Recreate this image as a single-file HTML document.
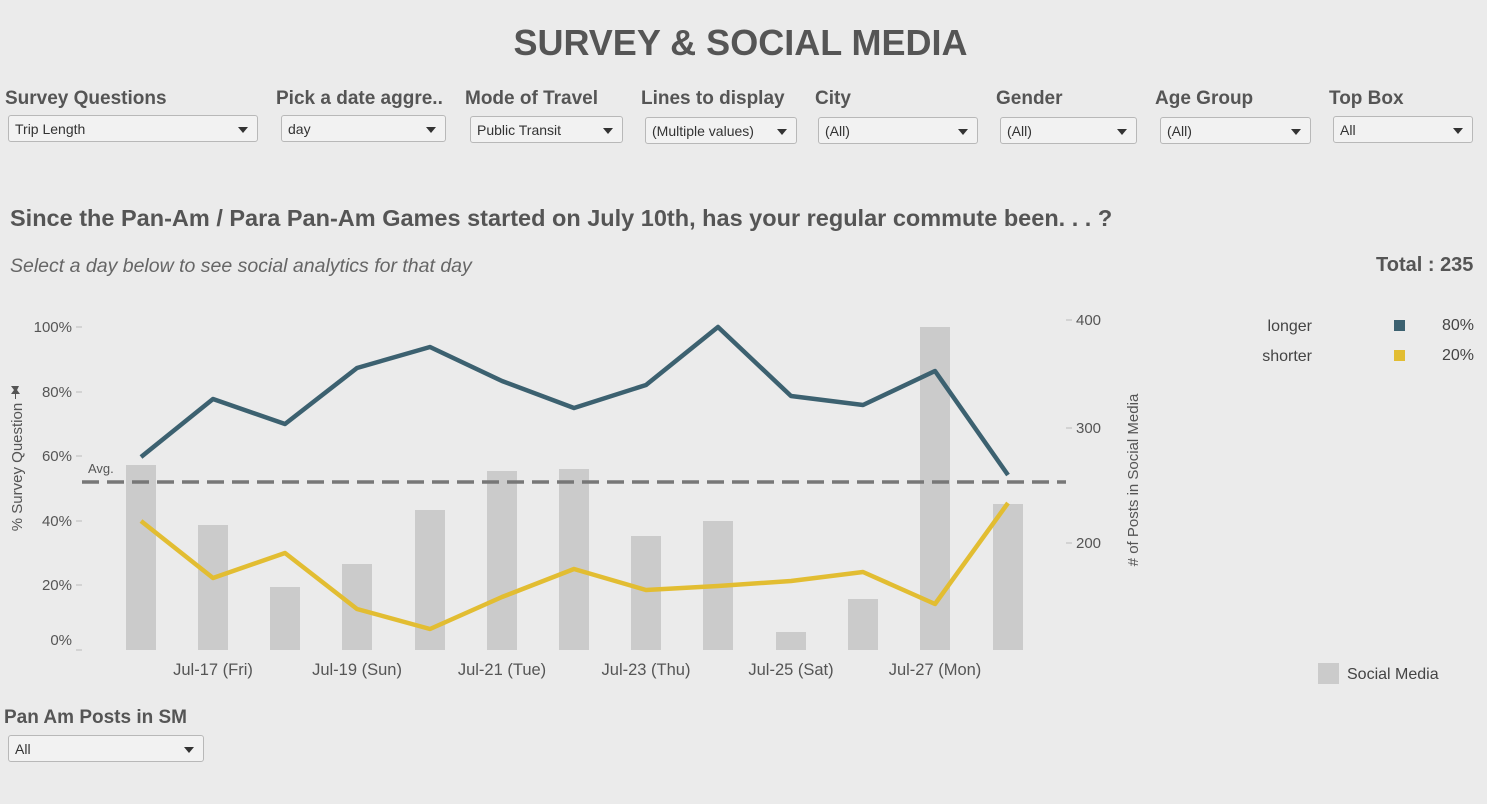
<!DOCTYPE html>
<html><head><meta charset="utf-8"><style>
body{margin:0;width:1487px;height:804px;background:#ebebeb;font-family:"Liberation Sans",Arial,sans-serif;position:relative;overflow:hidden;color:#444}
.a{position:absolute;white-space:nowrap}
.lbl{font-size:19px;font-weight:bold;color:#555}
.dd{position:absolute;height:27px;border:1px solid #b8b8b8;border-radius:3px;background:#f2f2f2;font-size:14px;color:#333;line-height:27px;padding-left:6px;box-sizing:border-box}
.dd:after{content:"";position:absolute;right:9px;top:11px;border-left:5px solid transparent;border-right:5px solid transparent;border-top:6px solid #333}
</style></head><body>
<div class="a" style="left:0;width:1481px;text-align:center;top:22px;font-size:36px;font-weight:bold;color:#555">SURVEY &amp; SOCIAL MEDIA</div>
<div class="a lbl" style="left:5px;top:88px">Survey Questions</div>
<div class="a lbl" style="left:276px;top:88px">Pick a date aggre..</div>
<div class="a lbl" style="left:465px;top:88px">Mode of Travel</div>
<div class="a lbl" style="left:641px;top:88px">Lines to display</div>
<div class="a lbl" style="left:815px;top:88px">City</div>
<div class="a lbl" style="left:996px;top:88px">Gender</div>
<div class="a lbl" style="left:1155px;top:88px">Age Group</div>
<div class="a lbl" style="left:1329px;top:88px">Top Box</div>
<div class="dd" style="left:8px;top:115px;width:250px">Trip Length</div>
<div class="dd" style="left:281px;top:115px;width:165px">day</div>
<div class="dd" style="left:470px;top:116px;width:153px">Public Transit</div>
<div class="dd" style="left:645px;top:117px;width:152px">(Multiple values)</div>
<div class="dd" style="left:818px;top:117px;width:160px">(All)</div>
<div class="dd" style="left:1000px;top:117px;width:137px">(All)</div>
<div class="dd" style="left:1160px;top:117px;width:151px">(All)</div>
<div class="dd" style="left:1333px;top:116px;width:140px">All</div>
<div class="a" style="left:10px;top:205px;font-size:23.5px;font-weight:bold;color:#555">Since the Pan-Am / Para Pan-Am Games started on July 10th, has your regular commute been. . . ?</div>
<div class="a" style="left:10px;top:255px;font-size:19.5px;font-style:italic;color:#666">Select a day below to see social analytics for that day</div>
<div class="a" style="left:1376px;top:254px;font-size:20px;font-weight:bold;color:#555">Total : 235</div>
<div class="a lbl" style="left:4px;top:707px">Pan Am Posts in SM</div>
<div class="dd" style="left:8px;top:735px;width:196px">All</div>
<svg class="a" style="left:0;top:0" width="1487" height="804">
<g fill="#cbcbcb">
<rect x="126" y="465" width="30" height="185"/><rect x="198" y="525" width="30" height="125"/><rect x="270" y="587" width="30" height="63"/><rect x="342" y="564" width="30" height="86"/><rect x="415" y="510" width="30" height="140"/><rect x="487" y="471" width="30" height="179"/><rect x="559" y="469" width="30" height="181"/><rect x="631" y="536" width="30" height="114"/><rect x="703" y="521" width="30" height="129"/><rect x="776" y="632" width="30" height="18"/><rect x="848" y="599" width="30" height="51"/><rect x="920" y="327" width="30" height="323"/><rect x="993" y="504" width="30" height="146"/>
</g>
<line x1="82" y1="482" x2="1066" y2="482" stroke="#777" stroke-width="3.5" stroke-dasharray="17,8"/>
<text x="88" y="473" font-size="13" fill="#555">Avg.</text>
<polyline fill="none" stroke="#3c6170" stroke-width="4.5" stroke-linejoin="round" points="141,457 213,399 285,424 357,368 430,347 502,381 574,408 646,385 718,327 791,396 863,405 935,371 1008,475"/>
<polyline fill="none" stroke="#e2bd32" stroke-width="4.5" stroke-linejoin="round" points="141,521 213,578 285,553 357,609 430,629 502,597 574,569 646,590 718,586 791,581 863,572 935,604 1008,503"/>
<g font-size="15" fill="#555" text-anchor="end">
<text x="72" y="332">100%</text><text x="72" y="397">80%</text><text x="72" y="461">60%</text><text x="72" y="526">40%</text><text x="72" y="590">20%</text><text x="72" y="645">0%</text>
</g>
<g stroke="#bbb"><line x1="76" y1="327" x2="82" y2="327"/><line x1="76" y1="392" x2="82" y2="392"/><line x1="76" y1="456" x2="82" y2="456"/><line x1="76" y1="521" x2="82" y2="521"/><line x1="76" y1="585" x2="82" y2="585"/><line x1="76" y1="650" x2="82" y2="650"/>
<line x1="1066" y1="320" x2="1072" y2="320"/><line x1="1066" y1="428" x2="1072" y2="428"/><line x1="1066" y1="543" x2="1072" y2="543"/></g>
<g font-size="15" fill="#555"><text x="1076" y="325">400</text><text x="1076" y="433">300</text><text x="1076" y="548">200</text></g>
<text transform="translate(22,467) rotate(-90)" font-size="15" fill="#555" text-anchor="middle">% Survey Question</text>
<text transform="translate(1138,480) rotate(-90)" font-size="15" fill="#555" text-anchor="middle"># of Posts in Social Media</text>
<path d="M11,386 l8,0 l-2,4 l3,4 l-4,0 l0,5 l-1,0 l0,-5 l-4,0 l3,-4 z" fill="#555"/>
<g font-size="16.5" fill="#555" text-anchor="middle">
<text x="213" y="675">Jul-17 (Fri)</text><text x="357" y="675">Jul-19 (Sun)</text><text x="502" y="675">Jul-21 (Tue)</text><text x="646" y="675">Jul-23 (Thu)</text><text x="791" y="675">Jul-25 (Sat)</text><text x="935" y="675">Jul-27 (Mon)</text>
</g>
<g font-size="16" fill="#444">
<text x="1312" y="331" text-anchor="end">longer</text><text x="1312" y="361" text-anchor="end">shorter</text>
<text x="1474" y="330" text-anchor="end">80%</text><text x="1474" y="360" text-anchor="end">20%</text>
<text x="1347" y="679">Social Media</text>
</g>
<rect x="1394" y="320" width="11" height="11" fill="#3c6170"/>
<rect x="1394" y="350" width="11" height="11" fill="#e2bd32"/>
<rect x="1318" y="663" width="21" height="21" fill="#cbcbcb"/>
</svg>
</body></html>
